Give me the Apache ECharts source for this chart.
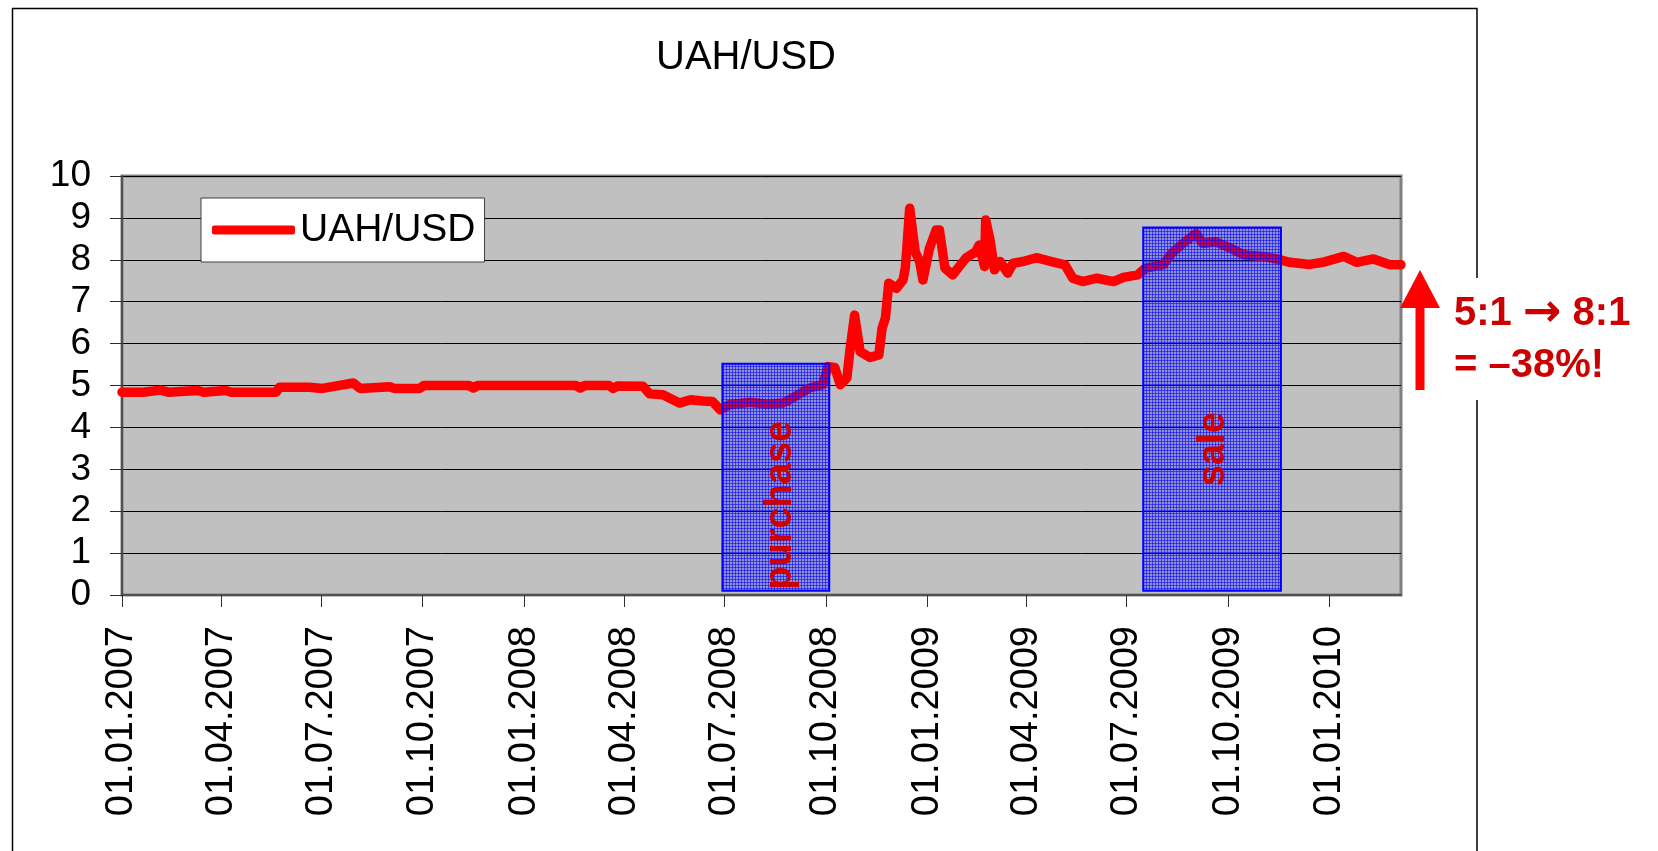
<!DOCTYPE html>
<html>
<head>
<meta charset="utf-8">
<title>UAH/USD</title>
<script src="https://cdn.jsdelivr.net/npm/echarts@6/dist/echarts.min.js"></script>
<style>
  html, body { margin: 0; padding: 0; background: #fff; }
  #chart { width: 1658px; height: 851px; }
</style>
</head>
<body>
<div id="chart"></div>
<script>
// курс гривны к доллару
var dates = [
  '2007-01-01', '2007-01-20', '2007-02-05', '2007-02-12', '2007-03-11', '2007-03-16',
  '2007-04-05', '2007-04-10', '2007-05-21', '2007-05-24', '2007-06-20', '2007-07-02',
  '2007-07-30', '2007-08-05', '2007-09-01', '2007-09-05', '2007-09-28', '2007-10-02',
  '2007-11-12', '2007-11-16', '2007-11-20', '2008-02-17', '2008-02-21', '2008-02-25',
  '2008-03-18', '2008-03-22', '2008-03-26', '2008-04-18', '2008-04-24', '2008-05-06',
  '2008-05-21', '2008-05-31', '2008-06-11', '2008-06-20', '2008-06-27', '2008-07-05',
  '2008-07-24', '2008-08-10', '2008-08-23', '2008-08-29', '2008-09-16', '2008-09-28',
  '2008-10-03', '2008-10-09', '2008-10-14', '2008-10-20', '2008-10-23', '2008-10-27',
  '2008-11-01', '2008-11-10', '2008-11-18', '2008-11-21', '2008-11-24', '2008-11-27',
  '2008-12-04', '2008-12-10', '2008-12-12', '2008-12-13', '2008-12-16', '2008-12-21',
  '2008-12-25', '2008-12-28', '2009-01-03', '2009-01-09', '2009-01-12', '2009-01-17',
  '2009-01-24', '2009-02-05', '2009-02-14', '2009-02-17', '2009-02-22', '2009-02-23',
  '2009-02-27', '2009-03-03', '2009-03-08', '2009-03-15', '2009-03-20', '2009-03-29',
  '2009-04-10', '2009-04-22', '2009-05-06', '2009-05-13', '2009-05-22', '2009-06-04',
  '2009-06-19', '2009-06-28', '2009-07-11', '2009-07-18', '2009-08-03', '2009-08-11',
  '2009-08-21', '2009-09-02', '2009-09-08', '2009-09-20', '2009-10-03', '2009-10-15',
  '2009-11-02', '2009-11-14', '2009-11-26', '2009-12-14', '2009-12-26', '2010-01-14',
  '2010-01-26', '2010-02-10', '2010-02-25', '2010-03-07'
];
var rates = [
  4.84, 4.84, 4.89, 4.84, 4.88, 4.84,
  4.88, 4.84, 4.84, 4.96, 4.96, 4.93,
  5.06, 4.93, 4.97, 4.93, 4.93, 5.00,
  5.00, 4.94, 5.00, 5.00, 4.94, 5.00,
  5.00, 4.93, 4.99, 4.98, 4.80, 4.78,
  4.58, 4.66, 4.63, 4.62, 4.42, 4.54,
  4.60, 4.55, 4.58, 4.66, 4.94, 5.02,
  5.45, 5.43, 5.02, 5.18, 5.89, 6.68,
  5.81, 5.67, 5.73, 6.37, 6.61, 7.44,
  7.32, 7.52, 7.80, 8.12, 9.23, 8.19,
  7.96, 7.52, 8.28, 8.71, 8.71, 7.80,
  7.64, 8.04, 8.19, 8.35, 7.84, 8.95,
  8.47, 7.76, 7.96, 7.68, 7.92, 7.96,
  8.05, 7.97, 7.88, 7.56, 7.48, 7.56,
  7.48, 7.58, 7.64, 7.80, 7.88, 8.16,
  8.39, 8.63, 8.39, 8.43, 8.28, 8.12,
  8.08, 8.02, 7.94, 7.89, 7.94, 8.08,
  7.94, 8.02, 7.88, 7.88
];
var tickDates = [
  '2007-01-01', '2007-04-01', '2007-07-01', '2007-10-01',
  '2008-01-01', '2008-04-01', '2008-07-01', '2008-10-01',
  '2009-01-01', '2009-04-01', '2009-07-01', '2009-10-01', '2010-01-01'
];
var axisStart = '2007-01-01';
var axisEnd = '2010-03-07';
// зоны покупки и продажи
var zoneNames = ['purchase', 'sale'];
var zoneFrom = ['2008-06-29', '2009-07-16'];
var zoneTo = ['2008-10-04', '2009-11-18'];
var zoneTop = [5.52, 8.77];
var zoneBottom = [0.1, 0.1];

var FONT = '"Liberation Sans", Arial, sans-serif';
var parse = function (s) { return +echarts.time.parse(s); };
var pad = function (n) { return n < 10 ? '0' + n : '' + n; };

// сетчатая штриховка прямоугольников
function makeHatch() {
  var c = document.createElement('canvas');
  c.width = 3; c.height = 3;
  var g = c.getContext('2d');
  g.fillStyle = 'rgba(40,40,255,0.30)';
  g.fillRect(0, 0, 3, 3);
  g.fillStyle = 'rgba(0,0,255,0.55)';
  g.fillRect(0, 0, 3, 1);
  g.fillRect(0, 0, 1, 3);
  return c;
}
var hatch = { image: makeHatch(), repeat: 'repeat' };

var seriesData = dates.map(function (d, i) { return [parse(d), rates[i]]; });
var tickValues = tickDates.map(parse);

// смещение подписи задаётся в повёрнутой системе координат
var zoneLabelOffset = [[-28, 5], [-40, 1]];
var zoneData = zoneNames.map(function (name, i) {
  return [
    {
      name: name,
      xAxis: parse(zoneFrom[i]),
      yAxis: zoneTop[i],
      label: { offset: zoneLabelOffset[i] }
    },
    { xAxis: parse(zoneTo[i]), yAxis: zoneBottom[i] }
  ];
});

var chart = echarts.init(document.getElementById('chart'), null, { renderer: 'canvas' });

var option = {
  animation: false,
  backgroundColor: '#ffffff',
  grid: {
    left: 122, right: 257, top: 176, bottom: 256,
    show: true,
    backgroundColor: '#c0c0c0',
    borderColor: '#808080',
    borderWidth: 3
  },
  legend: {
    data: ['UAH/USD'],
    left: 201, top: 198,
    orient: 'vertical',
    backgroundColor: '#ffffff',
    borderColor: '#404040',
    borderWidth: 1,
    borderRadius: 0,
    padding: [10, 9, 10, 11],
    icon: 'roundRect',
    itemWidth: 83,
    itemHeight: 9,
    itemGap: 6,
    textStyle: { fontFamily: FONT, fontSize: 39, color: '#000', lineHeight: 44 }
  },
  xAxis: {
    type: 'value',
    min: parse(axisStart),
    max: parse(axisEnd),
    axisLine: { lineStyle: { color: '#505050', width: 2 } },
    axisTick: {
      show: true, length: 12, customValues: tickValues,
      lineStyle: { color: '#303030', width: 1 }
    },
    splitLine: { show: false },
    axisLabel: {
      customValues: tickValues,
      rotate: 90,
      margin: 31,
      fontFamily: FONT,
      fontSize: 38,
      color: '#000',
      hideOverlap: false,
      formatter: function (v) {
        var d = new Date(v);
        return pad(d.getDate()) + '.' + pad(d.getMonth() + 1) + '.' + d.getFullYear();
      }
    }
  },
  yAxis: {
    type: 'value',
    min: 0, max: 10, interval: 1,
    axisLine: { show: true, lineStyle: { color: '#505050', width: 2 } },
    axisTick: { show: true, length: 12, lineStyle: { color: '#303030' } },
    splitLine: { show: true, lineStyle: { color: '#000', width: 1 } },
    axisLabel: { margin: 31, fontFamily: FONT, fontSize: 37, color: '#000' }
  },
  series: [{
    name: 'UAH/USD',
    type: 'line',
    z: 2,
    data: seriesData,
    showSymbol: false,
    color: '#ff0000',
    lineStyle: { color: '#ff0000', width: 9.5, cap: 'round', join: 'round' },
    markArea: {
      z: 5,
      silent: true,
      itemStyle: { color: hatch, borderColor: '#0000ff', borderWidth: 2 },
      label: {
        show: true,
        position: 'inside',
        rotate: 90,
        fontFamily: FONT,
        fontWeight: 'bold',
        fontSize: 38,
        color: '#cc0000'
      },
      data: zoneData
    }
  }],
  graphic: [
    // рамка области диаграммы
    { type: 'polyline', silent: true, shape: { points: [[12.5, 851], [12.5, 8.5], [1477, 8.5], [1477, 278]] },
      style: { stroke: '#000', lineWidth: 1.5, fill: null } },
    { type: 'line', silent: true, shape: { x1: 1477, y1: 400, x2: 1477, y2: 851 },
      style: { stroke: '#000', lineWidth: 1.5 } },
    { type: 'text', silent: true, x: 746, y: 58,
      style: { text: 'UAH/USD', font: '40px ' + FONT, fill: '#000', align: 'center', verticalAlign: 'middle' } },
    // стрелка и подпись
    { type: 'polygon', silent: true,
      shape: { points: [[1420, 270], [1440, 308], [1424.5, 308], [1424.5, 390], [1415.5, 390], [1415.5, 308], [1400, 308]] },
      style: { fill: '#ff0000' } },
    { type: 'text', silent: true, x: 1454, y: 314,
      style: {
        text: '{n|5:1 }{a|\u2192}{n| 8:1}',
        align: 'left', verticalAlign: 'middle',
        fill: '#cc0000',
        rich: {
          n: { fontFamily: FONT, fontWeight: 'bold', fontSize: 40, fill: '#cc0000' },
          a: { fontFamily: '"DejaVu Sans", sans-serif', fontWeight: 'bold', fontSize: 46, fill: '#cc0000' }
        }
      } },
    { type: 'text', silent: true, x: 1454, y: 366,
      style: { text: '= \u201338%!', font: 'bold 40px ' + FONT, fill: '#cc0000', align: 'left', verticalAlign: 'middle' } }
  ]
};

chart.setOption(option);
</script>
</body>
</html>
